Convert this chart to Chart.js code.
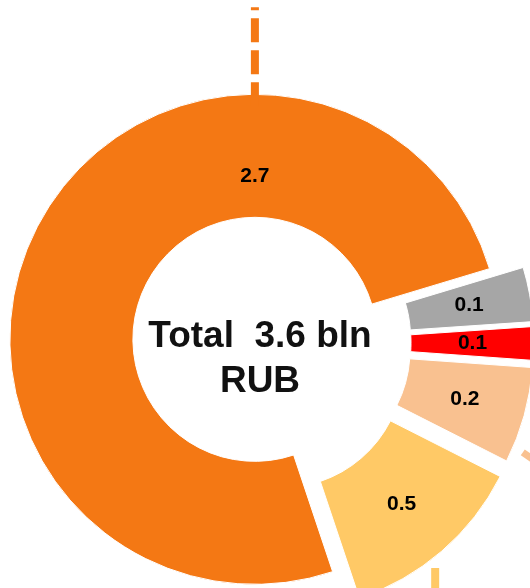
<!DOCTYPE html>
<html>
<head>
<meta charset="utf-8">
<script src="https://cdn.jsdelivr.net/npm/chart.js@4/dist/chart.umd.min.js"></script>
<style>
  html, body { margin: 0; padding: 0; background: #fff; overflow: hidden; width: 530px; height: 588px; }
  #wrap { position: absolute; left: -88px; top: -7px; width: 700px; height: 700px; }
</style>
</head>
<body>
<div id="wrap"><canvas id="chart"></canvas></div>
<script>
  // values; labels shown with one decimal
  const categories = ["Segment 1", "Segment 2", "Segment 3", "Segment 4", "Segment 5"];
  const values = [2.74, 0.13, 0.08, 0.23, 0.45];
  const colors = ["#F47814", "#A6A6A6", "#FF0000", "#F9C190", "#FFC966"];
  const totalLine = "Total  " + values.reduce((a, b) => a + b, 0).toFixed(1) + " bln";
  const unitLine = "RUB";

  const FONT = "'Liberation Sans', Arial, sans-serif";

  function deg(d) { return d * Math.PI / 180; }

  // pull slices out from the centre (after the library has laid them out)
  const explode = {
    id: "explode",
    afterDatasetsUpdate(chart, args, opts) {
      chart.getDatasetMeta(0).data.forEach((arc, i) => {
        const d = opts.distance[i] || 0;
        const mid = (arc.startAngle + arc.endAngle) / 2;
        arc.x += Math.cos(mid) * d;
        arc.y += Math.sin(mid) * d;
      });
    }
  };

  // leader lines of the outside labels (cut off by the frame)
  const leaders = {
    id: "leaders",
    afterDatasetsDraw(chart, args, opts) {
      const ctx = chart.ctx;
      const arcs = chart.getDatasetMeta(0).data;
      ctx.save();
      ctx.lineCap = "butt";
      opts.lines.forEach((l) => {
        const arc = arcs[l.index];
        const r0 = l.from != null ? l.from : arc.outerRadius + l.gap;
        const x0 = arc.x + Math.cos(deg(l.at)) * r0;
        const y0 = arc.y + Math.sin(deg(l.at)) * r0;
        const x1 = x0 + Math.cos(deg(l.dir)) * l.length;
        const y1 = y0 + Math.sin(deg(l.dir)) * l.length;
        ctx.strokeStyle = colors[l.index];
        ctx.lineWidth = l.width;
        ctx.setLineDash(l.dash || []);
        ctx.beginPath();
        ctx.moveTo(x0, y0);
        ctx.lineTo(x1, y1);
        ctx.stroke();
      });
      ctx.restore();
    }
  };

  const sliceLabels = {
    id: "sliceLabels",
    afterDatasetsDraw(chart) {
      const ctx = chart.ctx;
      const arcs = chart.getDatasetMeta(0).data;
      ctx.save();
      ctx.font = "bold 21px " + FONT;
      ctx.fillStyle = "#000";
      ctx.textAlign = "center";
      ctx.textBaseline = "middle";
      arcs.forEach((arc, i) => {
        let a = (arc.startAngle + arc.endAngle) / 2;
        let r = (arc.innerRadius + arc.outerRadius) / 2;
        if (arc.endAngle - arc.startAngle > Math.PI) {
          // big slice: label sits at 12 o'clock
          a = -Math.PI / 2;
          r = arc.innerRadius + (arc.outerRadius - arc.innerRadius) / 3;
        }
        ctx.fillText(values[i].toFixed(1), arc.x + Math.cos(a) * r, arc.y + Math.sin(a) * r);
      });
      ctx.restore();
    }
  };

  const centerText = {
    id: "centerText",
    afterDraw(chart) {
      const ctx = chart.ctx;
      const a = chart.chartArea;
      const cx = (a.left + a.right) / 2 - 2;
      const cy = (a.top + a.bottom) / 2;
      ctx.save();
      ctx.font = "bold 37px " + FONT;
      ctx.fillStyle = "#111";
      ctx.textAlign = "center";
      ctx.textBaseline = "alphabetic";
      ctx.fillText(totalLine, cx, cy + 4);
      ctx.fillText(unitLine, cx, cy + 49);
      ctx.restore();
    }
  };

  new Chart(document.getElementById("chart"), {
    type: "doughnut",
    data: {
      labels: categories,
      datasets: [{
        data: values,
        backgroundColor: colors,
        borderColor: "#ffffff",
        borderWidth: 1,
        hoverOffset: 0
      }]
    },
    options: {
      responsive: true,
      maintainAspectRatio: false,
      animation: false,
      events: [],
      rotation: 161.5,
      radius: 245,
      cutout: "49.8%",
      layout: { padding: 0 },
      plugins: {
        legend: { display: false },
        tooltip: { enabled: false },
        explode: { distance: [8, 27, 27, 27, 30] },
        leaders: {
          lines: [
            { index: 0, at: -90, from: 233, dir: -90, length: 99, width: 8, dash: [24, 8] },
            { index: 3, at: 23.5, gap: 11, dir: 35, length: 40, width: 7 },
            { index: 4, at: 52.8, gap: 9, dir: 90, length: 40, width: 8 }
          ]
        }
      }
    },
    plugins: [explode, leaders, sliceLabels, centerText]
  });
</script>
</body>
</html>
